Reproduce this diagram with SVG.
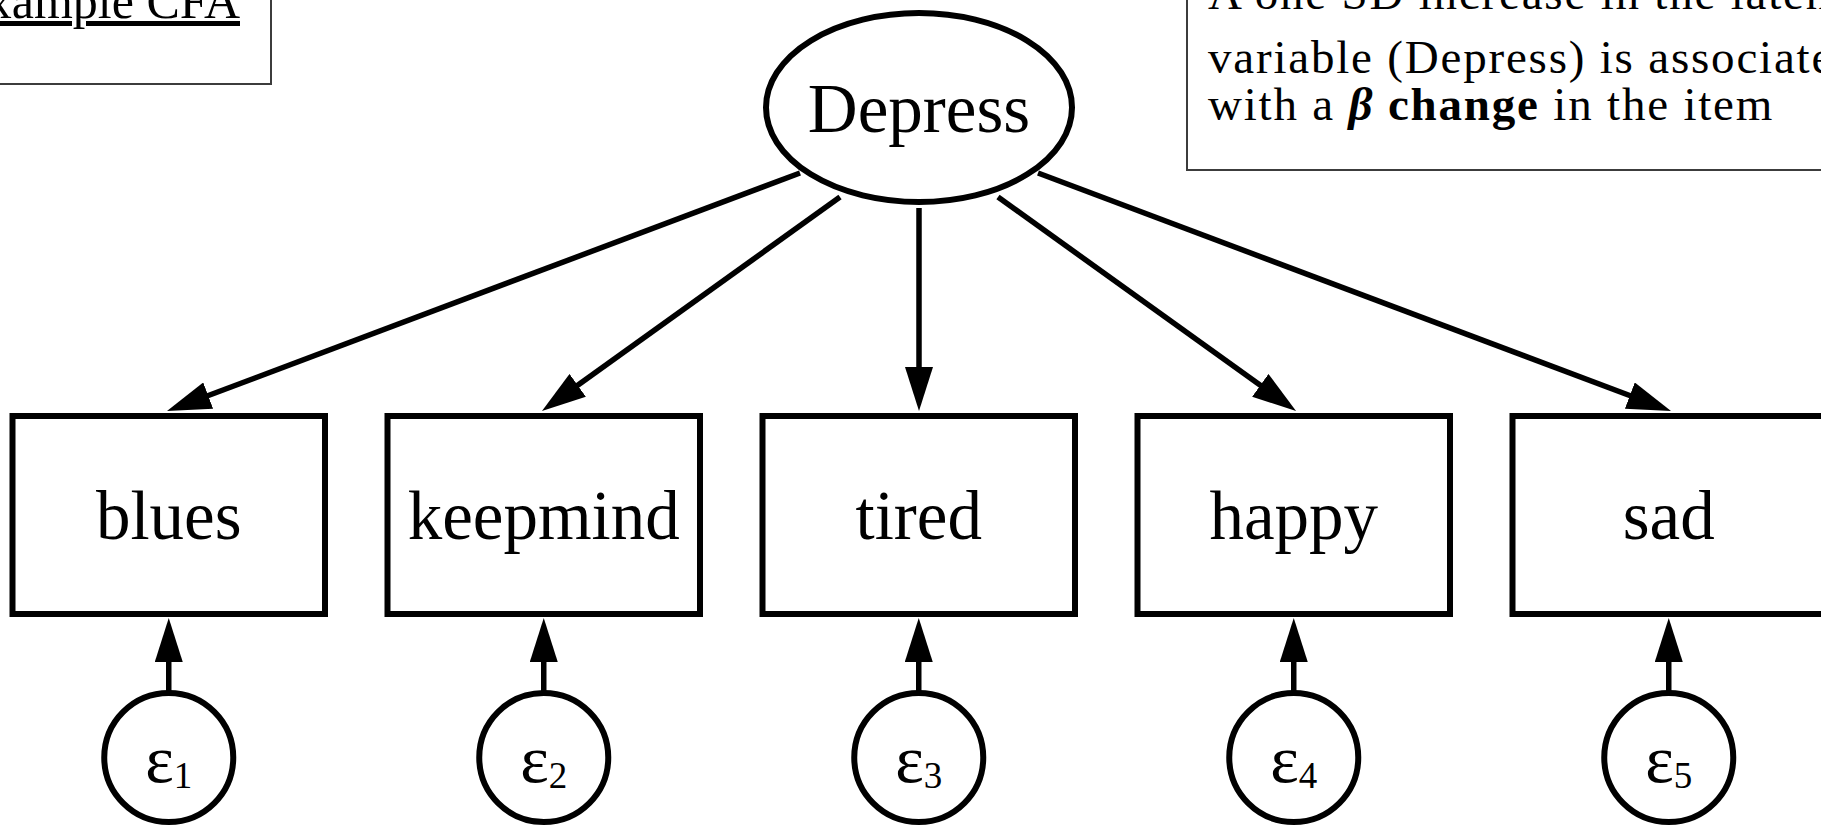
<svg xmlns="http://www.w3.org/2000/svg" width="1821" height="826" viewBox="0 0 1821 826">
<style>
.box{fill:#fff;stroke:#000;stroke-width:6}
.lat{fill:#fff;stroke:#000;stroke-width:6}
.note{fill:#fff;stroke:#3c3c3c;stroke-width:2}
.lbl{font-family:"Liberation Serif","Times New Roman",serif;font-size:69px;fill:#000;text-anchor:middle}
.eps{font-family:"Liberation Serif","Times New Roman",serif;font-size:68px;fill:#000;text-anchor:middle}
.sub{font-size:37px}
.txt{font-family:"Liberation Serif","Times New Roman",serif;font-size:50px;fill:#000}
.ntxt{font-family:"Liberation Serif","Times New Roman",serif;font-size:47px;letter-spacing:1.8px;fill:#000}
.conn line{stroke:#000;stroke-width:5.5;fill:none;marker-end:url(#ah)}
</style>
<defs>
<marker id="ah" markerUnits="userSpaceOnUse" markerWidth="44" markerHeight="28" refX="24" refY="14" orient="auto" viewBox="0 0 44 28">
<path d="M0,0 L44,14 L0,28 z" fill="#000"/>
</marker>
</defs>
<rect width="1821" height="826" fill="#fff"/>

<g id="title">
<rect class="note" x="-10" y="-10" width="281" height="94"/>
<text class="txt" x="240" y="18" text-anchor="end" text-decoration="underline">Example CFA</text>
</g>

<g id="note">
<rect class="note" x="1187" y="-10" width="650" height="180"/>
<text class="ntxt" x="1208" y="9">A one SD increase in the latent</text>
<text class="ntxt" x="1208" y="73">variable (Depress) is associated</text>
<text class="ntxt" x="1208" y="120">with a <tspan font-weight="bold" font-style="italic">β</tspan><tspan font-weight="bold"> change</tspan> in the item</text>
</g>

<g class="conn" id="connectors">
<line x1="800" y1="173" x2="185.7" y2="404.0"/>
<line x1="840" y1="197" x2="558.2" y2="399.3"/>
<line x1="919" y1="208" x2="919" y2="391"/>
<line x1="998" y1="197" x2="1279.8" y2="399.3"/>
<line x1="1038" y1="173" x2="1652.3" y2="404.0"/>
<line x1="168.75" y1="693" x2="168.75" y2="638"/>
<line x1="543.75" y1="693" x2="543.75" y2="638"/>
<line x1="918.75" y1="693" x2="918.75" y2="638"/>
<line x1="1293.75" y1="693" x2="1293.75" y2="638"/>
<line x1="1668.75" y1="693" x2="1668.75" y2="638"/>
</g>

<g id="Depress">
<ellipse class="lat" cx="919" cy="107.5" rx="153" ry="94.5"/>
<text class="lbl" x="919" y="132">Depress</text>
</g>

<g id="blues">
<rect class="box" x="12.5" y="416" width="312.5" height="198"/>
<text class="lbl" x="168.75" y="539">blues</text>
</g>
<g id="keepmind">
<rect class="box" x="387.5" y="416" width="312.5" height="198"/>
<text class="lbl" x="543.75" y="539">keepmind</text>
</g>
<g id="tired">
<rect class="box" x="762.5" y="416" width="312.5" height="198"/>
<text class="lbl" x="918.75" y="539">tired</text>
</g>
<g id="happy">
<rect class="box" x="1137.5" y="416" width="312.5" height="198"/>
<text class="lbl" x="1293.75" y="539">happy</text>
</g>
<g id="sad">
<rect class="box" x="1512.5" y="416" width="312.5" height="198"/>
<text class="lbl" x="1668.75" y="539">sad</text>
</g>

<g id="e1">
<circle class="lat" cx="168.75" cy="757.5" r="64.5"/>
<text class="eps" x="168.75" y="782">ε<tspan class="sub" dy="6">1</tspan></text>
</g>
<g id="e2">
<circle class="lat" cx="543.75" cy="757.5" r="64.5"/>
<text class="eps" x="543.75" y="782">ε<tspan class="sub" dy="6">2</tspan></text>
</g>
<g id="e3">
<circle class="lat" cx="918.75" cy="757.5" r="64.5"/>
<text class="eps" x="918.75" y="782">ε<tspan class="sub" dy="6">3</tspan></text>
</g>
<g id="e4">
<circle class="lat" cx="1293.75" cy="757.5" r="64.5"/>
<text class="eps" x="1293.75" y="782">ε<tspan class="sub" dy="6">4</tspan></text>
</g>
<g id="e5">
<circle class="lat" cx="1668.75" cy="757.5" r="64.5"/>
<text class="eps" x="1668.75" y="782">ε<tspan class="sub" dy="6">5</tspan></text>
</g>
</svg>
